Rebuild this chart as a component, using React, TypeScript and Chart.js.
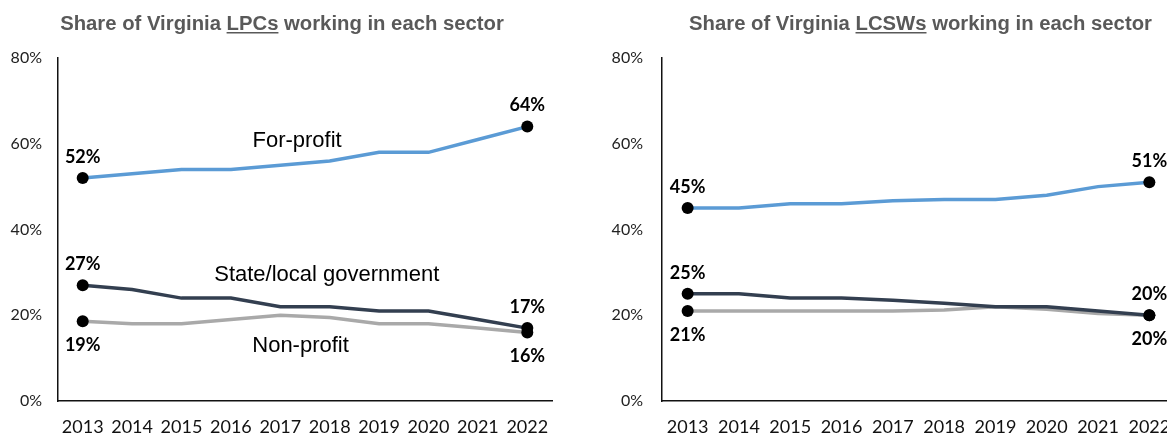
import React, { useEffect, useRef } from 'react';
import { Chart, registerables } from 'chart.js';

Chart.register(...registerables);

// ---------- data ----------
const years = ['2013', '2014', '2015', '2016', '2017', '2018', '2019', '2020', '2021', '2022'];

const lpcForProfit = [52, 53, 54, 54, 55, 56, 58, 58, 61, 64];
const lpcStateLocal = [27, 26, 24, 24, 22, 22, 21, 21, 19, 17];
const lpcNonProfit = [18.6, 18, 18, 19, 20, 19.5, 18, 18, 17, 16];

const lcswForProfit = [45, 45, 46, 46, 46.7, 47, 47, 48, 50, 51];
const lcswStateLocal = [25, 25, 24, 24, 23.5, 22.8, 22, 22, 21, 20];
const lcswNonProfit = [21, 21, 21, 21, 21, 21.2, 22, 21.4, 20.4, 20];

const seriesNames = ['For-profit', 'State/local government', 'Non-profit'];
const yMin = 0;
const yMax = 80;
const yStep = 20;

// ---------- styles ----------
const COLORS = ['#5B9BD5', '#333F50', '#A9A9A9'];
const AXIS_FONT = 'Lato, "Open Sans", sans-serif';
const ARIAL = '"Liberation Sans", Arial, sans-serif';

const annotPlugin = {
  id: 'annot',
  afterDatasetsDraw(chart: any, _args: any, opts: any) {
    const ctx = chart.ctx as CanvasRenderingContext2D;
    const xs = chart.scales.x;
    const ys = chart.scales.y;
    ctx.save();

    // title with underlined word
    const t = opts.title;
    ctx.font = `bold 20.3px ${ARIAL}`;
    ctx.fillStyle = '#595959';
    ctx.textBaseline = 'alphabetic';
    ctx.textAlign = 'left';
    const full = t.pre + t.u + t.post;
    const w = ctx.measureText(full).width;
    const sx = t.cx - w / 2;
    const wp = ctx.measureText(t.pre).width;
    const wu = ctx.measureText(t.u).width;
    ctx.fillText(t.pre, sx, t.y);
    ctx.fillText(t.u, sx + wp, t.y);
    ctx.fillText(t.post, sx + wp + wu, t.y);
    ctx.fillRect(sx + wp, t.y + 2, wu, 1.5);

    // end-point value labels
    ctx.font = `bold 18px ${AXIS_FONT}`;
    ctx.fillStyle = '#000';
    ctx.textAlign = 'center';
    ctx.textBaseline = 'middle';
    chart.data.datasets.forEach((ds: any, di: number) => {
      const meta = chart.getDatasetMeta(di);
      const pos = opts.labelPos[di];
      const idxs = [0, ds.data.length - 1];
      idxs.forEach((idx, k) => {
        const pt = meta.data[idx];
        const dy = pos[k] === 'above' ? -21 : 24;
        ctx.fillText(Math.round(ds.data[idx]) + '%', pt.x, pt.y + dy);
      });
    });

    // series name labels (anchored in data space)
    if (opts.names) {
      ctx.font = `22px ${ARIAL}`;
      ctx.fillStyle = '#000';
      ctx.textAlign = 'center';
      ctx.textBaseline = 'alphabetic';
      opts.names.forEach((n: any) => {
        ctx.fillText(n.text, xs.getPixelForValue(n.xi), ys.getPixelForValue(n.yv));
      });
    }
    ctx.restore();
  },
};

function makeConfig(
  data: number[][],
  yWidth: number,
  yPad: number,
  padRight: number,
  title: any,
  names: any
) {
  return {
    type: 'line' as const,
    data: {
      labels: years,
      datasets: data.map((d, i) => ({
        label: seriesNames[i],
        data: d,
        borderColor: COLORS[i],
        backgroundColor: COLORS[i],
        borderWidth: 3.5,
        tension: 0,
        fill: false,
        clip: false as any,
        pointRadius: d.map((_, j) => (j === 0 || j === d.length - 1 ? 6 : 0)),
        pointHoverRadius: d.map((_, j) => (j === 0 || j === d.length - 1 ? 6 : 0)),
        pointBackgroundColor: '#000',
        pointBorderColor: '#000',
        pointBorderWidth: 0,
      })),
    },
    options: {
      responsive: false,
      animation: false as const,
      events: [],
      layout: { padding: { left: 0, right: padRight, top: 58, bottom: 0 } },
      plugins: {
        legend: { display: false },
        tooltip: { enabled: false },
        title: { display: false },
        annot: {
          title,
          names,
          labelPos: [
            ['above', 'above'],
            ['above', 'above'],
            ['below', 'below'],
          ],
        },
      },
      scales: {
        x: {
          type: 'category' as const,
          offset: true,
          grid: { display: false, drawTicks: false },
          border: { display: true, color: '#111', width: 1.5 },
          ticks: {
            autoSkip: false,
            maxRotation: 0,
            padding: 15,
            color: '#111',
            font: { family: AXIS_FONT, size: 18 },
          },
          afterFit: (s: any) => {
            s.height = 34;
          },
        },
        y: {
          min: yMin,
          max: yMax,
          grid: { display: false, drawTicks: false },
          border: { display: true, color: '#111', width: 1.5 },
          ticks: {
            stepSize: yStep,
            padding: yPad,
            color: '#222',
            font: { family: AXIS_FONT, size: 16 },
            callback: (v: any) => v + '%',
          },
          afterFit: (s: any) => {
            s.width = yWidth;
          },
        },
      },
    },
    plugins: [annotPlugin],
  };
}

function Panel(props: { left: number; width: number; cfg: any }) {
  const ref = useRef<HTMLCanvasElement | null>(null);
  useEffect(() => {
    if (!ref.current) return;
    const chart = new Chart(ref.current, props.cfg);
    return () => chart.destroy();
  }, []);
  return (
    <div style={{ position: 'absolute', left: props.left, top: 0, width: props.width, height: 435 }}>
      <canvas ref={ref} width={props.width} height={435} style={{ display: 'block' }} />
    </div>
  );
}

export default function App() {
  const leftCfg = makeConfig(
    [lpcForProfit, lpcStateLocal, lpcNonProfit],
    58,
    16,
    43,
    { pre: 'Share of Virginia ', u: 'LPCs', post: ' working in each sector', cx: 282, y: 30 },
    [
      { text: seriesNames[0], xi: 4.34, yv: 59.2 },
      { text: seriesNames[1], xi: 4.94, yv: 28.0 },
      { text: seriesNames[2], xi: 4.41, yv: 11.4 },
    ]
  );
  const rightCfg = makeConfig(
    [lcswForProfit, lcswStateLocal, lcswNonProfit],
    62,
    19,
    15,
    { pre: 'Share of Virginia ', u: 'LCSWs', post: ' working in each sector', cx: 320.5, y: 30 },
    null
  );
  return (
    <div
      style={{
        position: 'fixed',
        left: 0,
        top: 0,
        width: 1167,
        height: 435,
        overflow: 'hidden',
        background: '#fff',
      }}
    >
      <Panel left={0} width={595} cfg={leftCfg} />
      <Panel left={600} width={590} cfg={rightCfg} />
    </div>
  );
}
